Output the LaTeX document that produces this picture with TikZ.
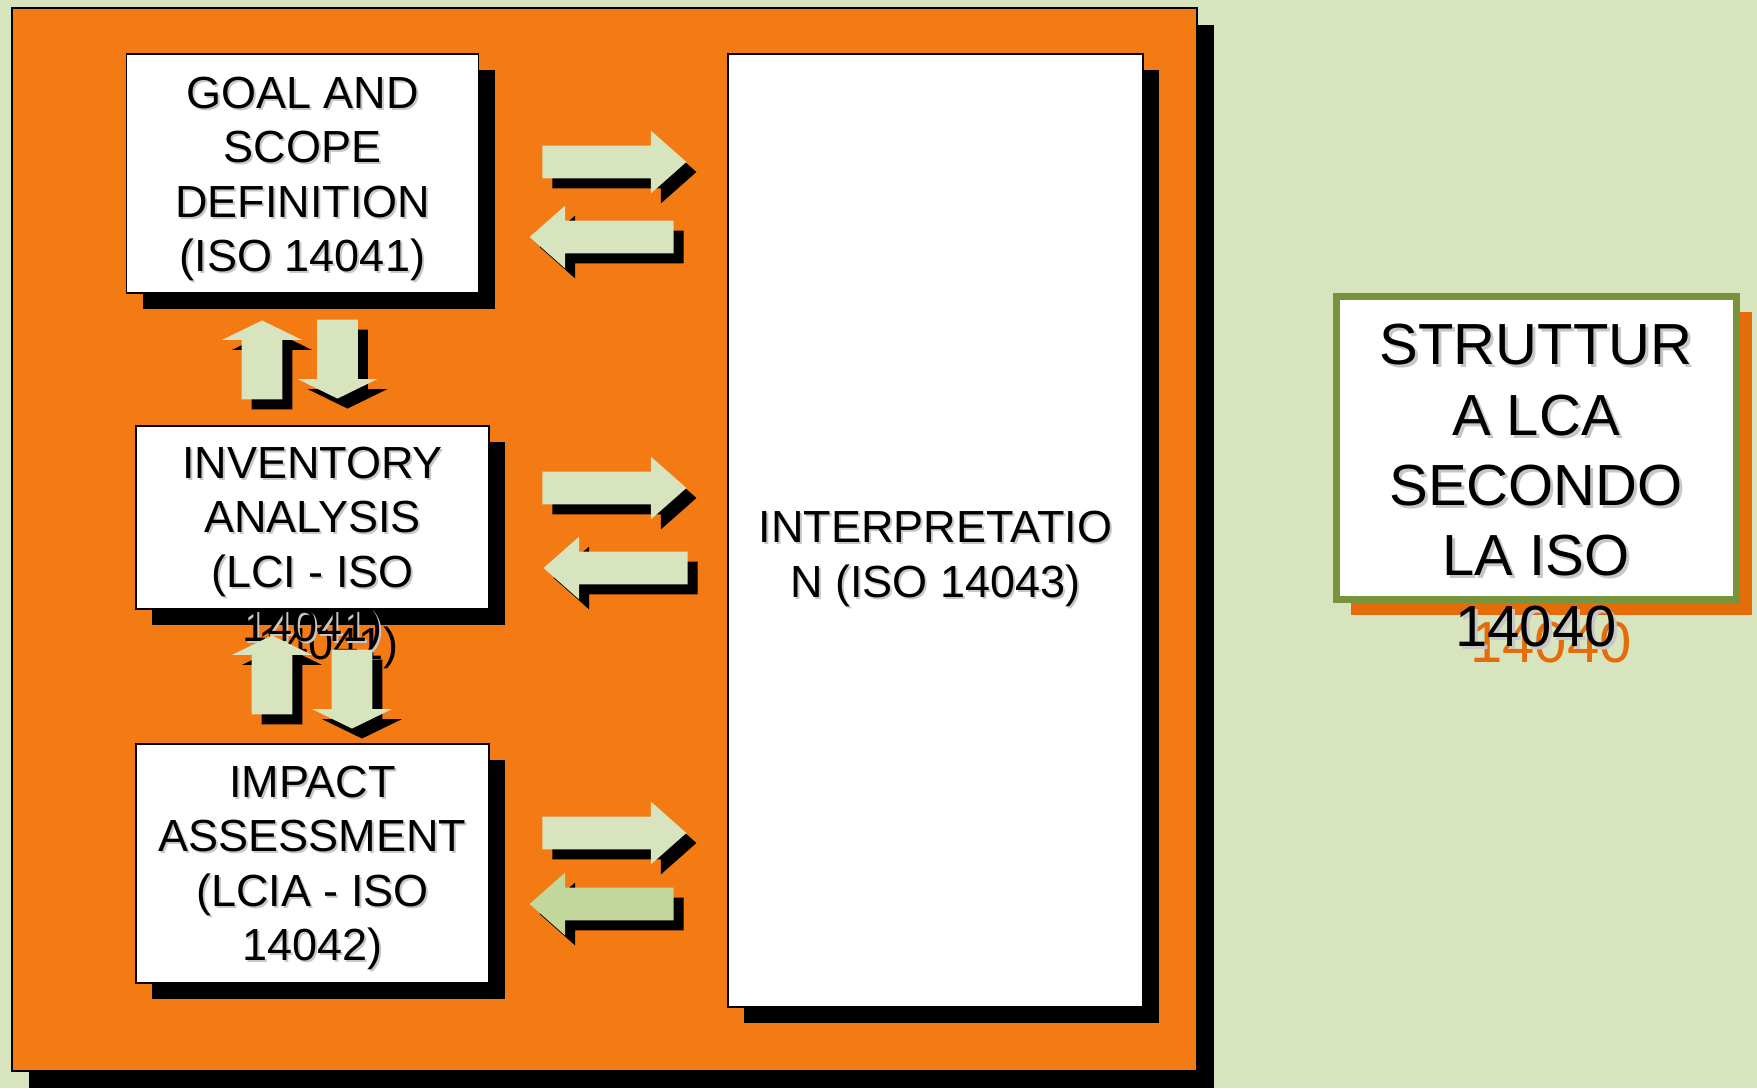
\documentclass[tikz,border=0pt]{standalone}
\usepackage{fontspec}
\setmainfont{Liberation Sans}
\usetikzlibrary{shapes.arrows, shadows}
\definecolor{paleolive}{HTML}{D7E4BD}
\definecolor{midolive}{HTML}{C3D69B}
\definecolor{darkolive}{HTML}{77933C}
\definecolor{lcaorange}{HTML}{F47A14}
\definecolor{deeporange}{HTML}{E46C0A}
% text with a light grey shadow
\newcommand\shd[2][1pt]{\rlap{\kern#1\raisebox{-#1}{\textcolor{black!22}{#2}}}#2}
\tikzstyle{frame} = [rectangle, draw=black, line width=0.75pt, fill=lcaorange, inner sep=0pt, drop shadow={fill=black, opacity=1, shadow xshift=8.5pt, shadow yshift=-8.5pt}]
\tikzstyle{phase} = [rectangle, draw=black, line width=0.75pt, fill=white, inner sep=0pt, drop shadow={fill=black, opacity=1, shadow xshift=8pt, shadow yshift=-8pt}]
\tikzstyle{phasetext} = [align=center, inner sep=0pt, font=\fontsize{22.5}{27.25}\selectfont]
\tikzstyle{titletext} = [align=center, inner sep=0pt, font=\fontsize{29}{35.15}\selectfont]
\tikzstyle{harrow} = [single arrow, fill=paleolive, inner sep=8pt, minimum height=72pt, single arrow head extend=7.5pt, single arrow tip angle=83, anchor=tip, drop shadow={fill=black, opacity=1, shadow xshift=5pt, shadow yshift=-5pt}]
\tikzstyle{varrow} = [single arrow, fill=paleolive, inner sep=10pt, minimum height=39.5pt, single arrow head extend=9.75pt, single arrow tip angle=128, anchor=tip, drop shadow={fill=black, opacity=1, shadow xshift=5pt, shadow yshift=-5pt}]

\begin{document}
\begin{tikzpicture}[x=0.5pt, y=-0.5pt]
    \useasboundingbox (0,0) rectangle (1757,1088);
    \fill[paleolive] (0,0) rectangle (1757,1088);
    % orange panel with the four phases
    \node (frame) [frame, minimum width=592.5pt, minimum height=531.5pt] at (604.5,539.5) {};
    \node (goal) [phase, minimum width=176pt, minimum height=119.5pt] at (302.5,173.5) {};
    \node (inv) [phase, minimum width=176.5pt, minimum height=91.5pt] at (312.5,517.5) {};
    \node (imp) [phase, minimum width=176.5pt, minimum height=119.5pt] at (312.5,863.5) {};
    \node (interp) [phase, minimum width=207.5pt, minimum height=476.5pt] at (935.5,530.5) {};
    \node (goaltxt) [phasetext] at (302.5,180) {\shd{GOAL AND}\\\shd{SCOPE}\\\shd{DEFINITION}\\\shd{(ISO 14041)}};
    \node (invsh) [phasetext, anchor=base] at (328.5,659) {14041)};
    \node (invtxt) [phasetext] at (312.5,550) {\shd{INVENTORY}\\\shd{ANALYSIS}\\\shd{(LCI - ISO}\\\shd{14041)}};
    \node (imptxt) [phasetext] at (312.5,869) {\shd{IMPACT}\\\shd{ASSESSMENT}\\\shd{(LCIA - ISO}\\\shd{14042)}};
    \node (interptxt) [phasetext] at (935.5,560) {\shd{INTERPRETATIO}\\\shd{N (ISO 14043)}};
    % block arrows
    \node (g2p) [harrow] at (687,162) {};
    \node (p2g) [harrow, shape border rotate=180] at (529,237) {};
    \node (v2p) [harrow] at (687,488) {};
    \node (p2v) [harrow, shape border rotate=180] at (543,568) {};
    \node (a2p) [harrow] at (687,833) {};
    \node (p2a) [harrow, shape border rotate=180, fill=midolive] at (529,904) {};
    \node (v2g) [varrow, shape border rotate=90] at (262,320) {};
    \node (g2v) [varrow, shape border rotate=270] at (337.5,399) {};
    \node (a2v) [varrow, shape border rotate=90] at (272,635) {};
    \node (v2a) [varrow, shape border rotate=270] at (352,729) {};
    % title box
    \node (lca) [rectangle, draw=darkolive, line width=3.5pt, fill=white, minimum width=200.25pt, minimum height=151.5pt, drop shadow={fill=deeporange, opacity=1, shadow xshift=7.5pt, shadow yshift=-7.5pt}] at (1536.25,448) {};
    \node (lcash) [titletext, text=deeporange, anchor=base] at (1551,662) {14040};
    \node (lcatxt) [titletext] at (1536,487) {\shd[1.5pt]{STRUTTUR}\\\shd[1.5pt]{A LCA}\\\shd[1.5pt]{SECONDO}\\\shd[1.5pt]{LA ISO}\\\shd[1.5pt]{14040}};
\end{tikzpicture}
\end{document}
